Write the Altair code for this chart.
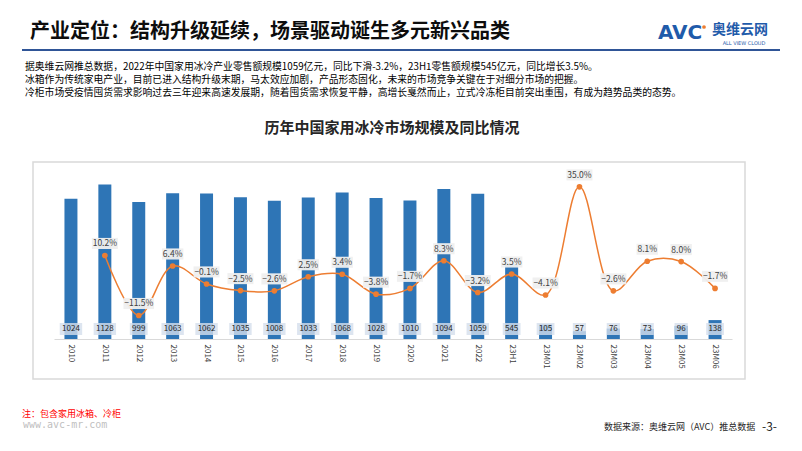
import altair as alt
import pandas as pd

# ---------------- data ----------------
categories = ["2010", "2011", "2012", "2013", "2014", "2015", "2016", "2017", "2018",
              "2019", "2020", "2021", "2022", "23H1", "23M01", "23M02", "23M03",
              "23M04", "23M05", "23M06"]
sales = [1024, 1128, 999, 1063, 1062, 1035, 1008, 1033, 1068, 1028, 1010, 1094, 1059,
         545, 105, 57, 76, 73, 96, 138]
growth = [None, 10.2, -11.5, 6.4, -0.1, -2.5, -2.6, 2.5, 3.4, -3.8, -1.7, 8.3, -3.2,
          3.5, -4.1, 35.0, -2.6, 8.1, 8.0, -1.7]

slide_title = "产业定位：结构升级延续，场景驱动诞生多元新兴品类"
body_lines = [
    "据奥维云网推总数据，2022年中国家用冰冷产业零售额规模1059亿元，同比下滑-3.2%，23H1零售额规模545亿元，同比增长3.5%。",
    "冰箱作为传统家电产业，目前已进入结构升级末期，马太效应加剧，产品形态固化，未来的市场竞争关键在于对细分市场的把握。",
    "冷柜市场受疫情囤货需求影响过去三年迎来高速发展期，随着囤货需求恢复平静，高增长戛然而止，立式冷冻柜目前突出重围，有成为趋势品类的态势。",
]
chart_title = "历年中国家用冰冷市场规模及同比情况"
note_text = "注：包含家用冰箱、冷柜"
url_text = "www.avc-mr.com"
source_text = "数据来源：奥维云网（AVC）推总数据"
page_text = "-3-"
logo_main = "AVC"
logo_cn = "奥维云网"
logo_en = "ALL VIEW CLOUD"

df = pd.DataFrame({"cat": categories, "sales": sales, "growth": growth})

FONT = "Noto Sans CJK SC"
BLUE = "#2E75B6"
ORANGE = "#ED7D31"

x_enc = alt.X("cat:N", sort=categories,
              scale=alt.Scale(paddingInner=0.617, paddingOuter=0.3085),
              axis=alt.Axis(title=None, labelAngle=90, labelFontSize=8, labelColor="#404040",
                            labelFont=FONT, ticks=False, domainColor="#D9D9D9",
                            domainWidth=1, labelPadding=5, grid=False))

y_sales = alt.Y("sales:Q", scale=alt.Scale(domain=[0, 1233]), axis=None)
y_growth = alt.Y("growth:Q", scale=alt.Scale(domain=[-20, 41.1]), axis=None)

base = alt.Chart(df)

bars = base.mark_bar(color=BLUE).encode(x=x_enc, y=y_sales)

val_box = base.transform_calculate(
    lab="'' + datum.sales",
).transform_calculate(
    hw="(length(datum.lab) * 4.6 + 4) / 30",
).transform_calculate(
    shp="'M' + (-datum.hw) + ',-0.4H' + datum.hw + 'V0.4H' + (-datum.hw) + 'Z'",
).mark_point(filled=True, fill="#D5DFEC", opacity=0.8, strokeWidth=0, size=900).encode(
    x=x_enc, y=alt.value(159), shape=alt.Shape("shp:N", scale=None, legend=None))

val_text = base.mark_text(fontSize=8, font=FONT, color="#262626", baseline="middle").encode(
    x=x_enc, y=alt.value(159), text=alt.Text("sales:Q", format="d"))

gbase = base.transform_filter("isValid(datum.growth)")

line = gbase.mark_line(color=ORANGE, strokeWidth=1.5, interpolate="catmull-rom").encode(
    x=x_enc, y=y_growth)

pts = gbase.mark_circle(color=ORANGE, size=32, opacity=1).encode(x=x_enc, y=y_growth)

pct_box = gbase.transform_calculate(
    lab="format(datum.growth, '.1f') + '%'",
).transform_calculate(
    hw="(length(datum.lab) * 4.6 + 3) / 30",
).transform_calculate(
    shp="'M' + (-datum.hw) + ',-0.37H' + datum.hw + 'V0.37H' + (-datum.hw) + 'Z'",
).mark_point(filled=True, fill="#EFEFEF", opacity=0.95, strokeWidth=0, size=900,
             yOffset=-12).encode(
    x=x_enc, y=y_growth, shape=alt.Shape("shp:N", scale=None, legend=None))

pct_text = gbase.transform_calculate(
    lab="format(datum.growth, '.1f') + '%'",
).mark_text(fontSize=8.5, font=FONT, color="#404040", baseline="middle", yOffset=-12).encode(
    x=x_enc, y=y_growth, text="lab:N")


def txt(s, x, y, size=10, color="#000000", bold=False, align="left", font=FONT):
    kw = dict(align=align, baseline="middle", fontSize=size, color=color,
              fontWeight="bold" if bold else "normal", font=font)
    return alt.Chart(pd.DataFrame({"t": [s]})).mark_text(**kw).encode(
        x=alt.value(x), y=alt.value(y), text="t:N")


one = pd.DataFrame({"k": [0]})
panel = alt.Chart(one).mark_rect(fillOpacity=0, stroke="#D9D9D9", strokeWidth=1.5).encode(
    x=alt.value(-21), x2=alt.value(691), y=alt.value(-8), y2=alt.value(209))
rule = alt.Chart(one).mark_rule(color="#2F5597", strokeWidth=2).encode(
    x=alt.value(-32), x2=alt.value(726), y=alt.value(-120))
dot = alt.Chart(one).mark_circle(color=ORANGE, size=14, opacity=1).encode(
    x=alt.value(650), y=alt.value(-143))

annots = [
    txt(slide_title, -24, -138, size=20, color="#0D0D0D", bold=True),
    txt(logo_main, 604, -137, size=20, color="#1F5BAA", bold=True, font="DejaVu Sans"),
    txt(logo_cn, 658, -140, size=14, color="#1F5BAA", bold=True),
    txt(logo_en, 690, -127, size=5, color="#1F5BAA", align="center", font="DejaVu Sans"),
    txt(body_lines[0], -29, -103, size=9.8),
    txt(body_lines[1], -29, -90, size=9.8),
    txt(body_lines[2], -29, -77, size=9.8),
    txt(chart_title, 338, -42, size=15, color="#262626", bold=True, align="center"),
    txt(note_text, -32, 244, size=9, color="#FF0000"),
    txt(url_text, -31, 255, size=10, color="#BFBFBF", font="DejaVu Sans Mono"),
    txt(source_text, 550, 257, size=9, color="#262626"),
    txt(page_text, 708, 257, size=12, color="#262626"),
]

chart = alt.layer(
    panel, bars, val_box, val_text, line, pts, pct_box, pct_text, rule, dot, *annots
).resolve_scale(y="independent").properties(
    width=678, height=169,
    padding={"left": 46, "top": 162, "right": 62, "bottom": 104},
    autosize="none",
    background="white",
).configure_view(stroke=None)

chart.save("out.html", embed_options={"renderer": "svg", "actions": False})
